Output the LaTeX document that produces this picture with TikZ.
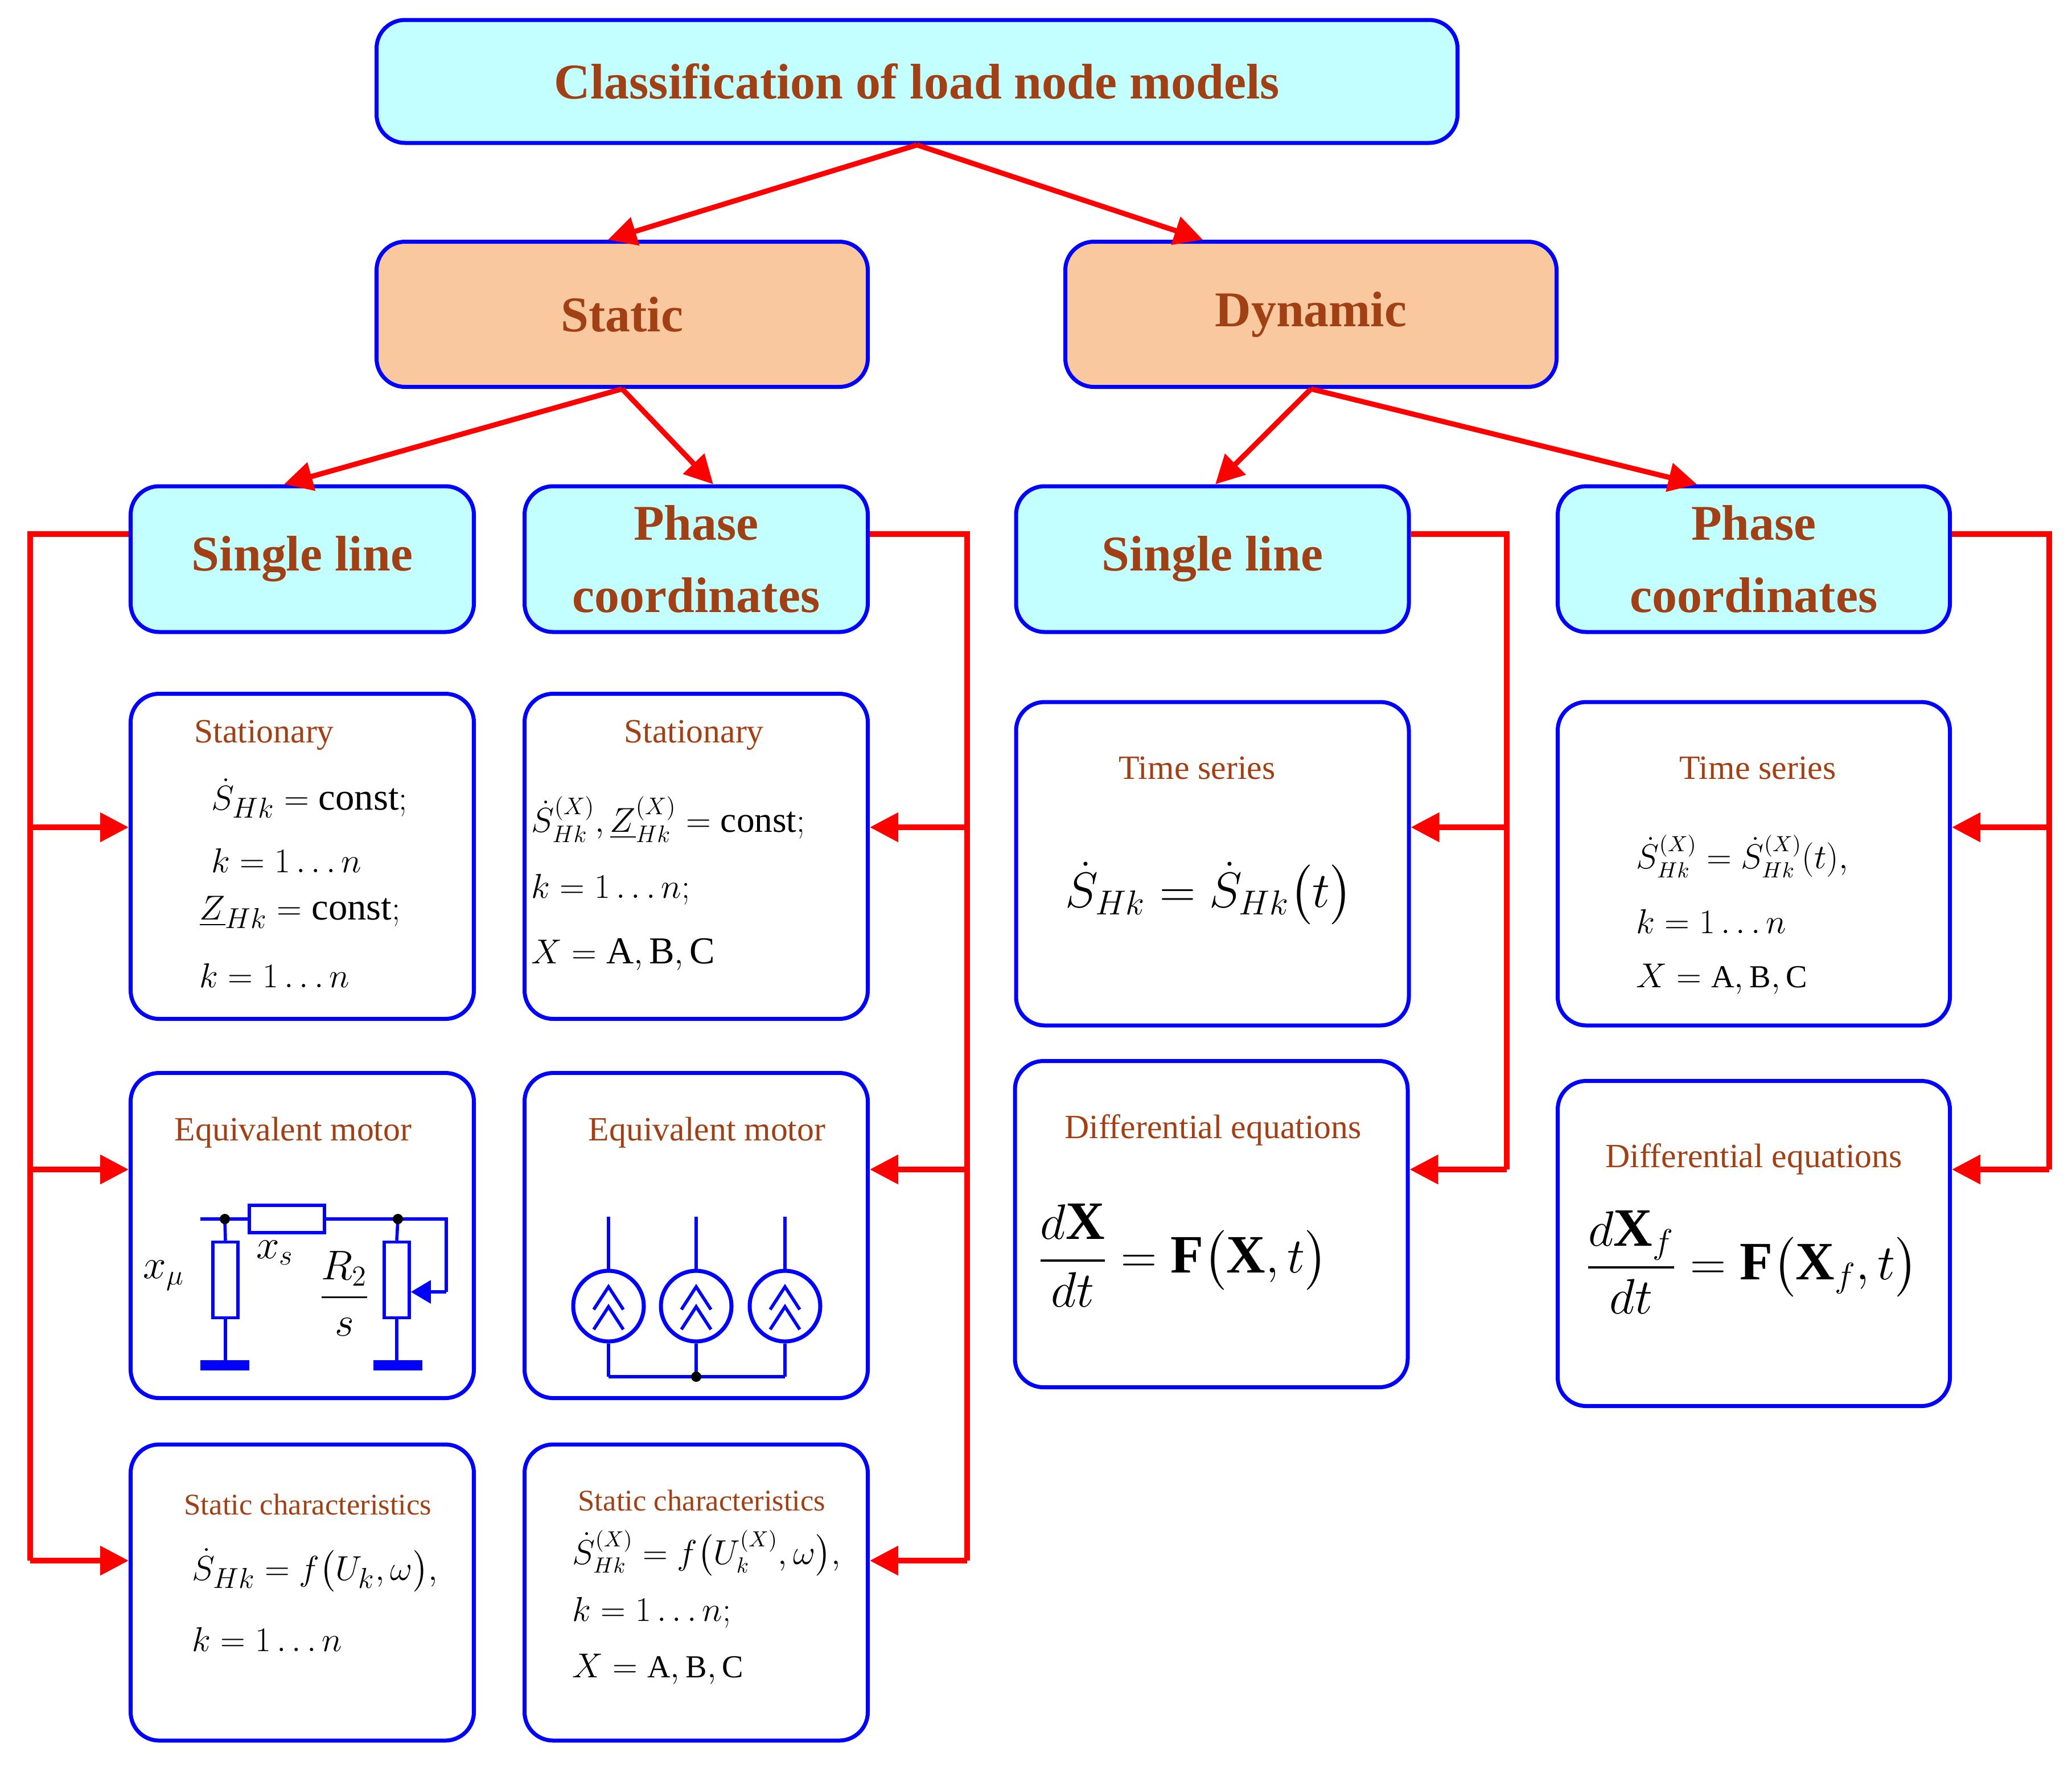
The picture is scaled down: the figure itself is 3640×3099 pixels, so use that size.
\documentclass[tikz,border=0pt]{standalone}
\usepackage{fontspec}
\setmainfont{Liberation Serif}
\usepackage{amsmath}
\usetikzlibrary{arrows.meta, calc, positioning}
\definecolor{txtbrown}{RGB}{160,64,20}
\definecolor{boxcyan}{RGB}{196,255,255}
\definecolor{boxorange}{RGB}{250,200,158}
\begin{document}
\begin{tikzpicture}[x=0.1mm, y=-0.1mm,
    box/.style={draw=blue, line width=2pt, rounded corners=5mm, fill=white},
    head/.style={box, text=txtbrown, font=\fontsize{25}{36}\selectfont\bfseries, align=center},
    lbl/.style={text=txtbrown, font=\fontsize{17}{20}\selectfont},
    mth/.style={font=\fontsize{19}{22}\selectfont, anchor=west, inner sep=0},
    arr/.style={draw=red, line width=2.6pt, -{Triangle[length=5mm, width=5mm]}},
    lin/.style={draw=red, line width=2.6pt},
    wire/.style={draw=blue, line width=1.6pt}]

    \useasboundingbox (0,0) rectangle (3640,3099);

    % LEVEL 1 AND 2
    \node[head, fill=boxcyan, minimum width=189.9mm, minimum height=21.6mm] (top) at (1611,143) {Classification of load node models};
    \node[head, fill=boxorange, minimum width=86.3mm, minimum height=25.5mm] (static) at (1093,552) {Static};
    \node[head, fill=boxorange, minimum width=86.3mm, minimum height=25.5mm] (dynamic) at (2303,552) {Dynamic};
    \draw[arr] (top.south) -- ($(static.north)+(-25,0)$);
    \draw[arr] (top.south) -- ($(dynamic.north)+(-190,0)$);

    % LEVEL 3
    \node[head, fill=boxcyan, minimum width=60.3mm, minimum height=25.6mm] (sl1) at (531,982) {Single line};
    \node[head, fill=boxcyan, minimum width=60.3mm, minimum height=25.6mm] (pc1) at (1223,982) {Phase\\coordinates};
    \node[head, fill=boxcyan, minimum width=69mm, minimum height=25.6mm] (sl2) at (2130,982) {Single line};
    \node[head, fill=boxcyan, minimum width=68.9mm, minimum height=25.6mm] (pc2) at (3081,982) {Phase\\coordinates};
    \draw[arr] (static.south) -- ($(sl1.north)+(-32,0)$);
    \draw[arr] (static.south) -- ($(pc1.north)+(30,0)$);
    \draw[arr] (dynamic.south) -- ($(sl2.north)+(5,0)$);
    \draw[arr] (dynamic.south) -- ($(pc2.north)+(-100,0)$);

    % STATIC SINGLE LINE
    \node[box, minimum width=60.3mm, minimum height=57.1mm] (stat1) at (531,1504) {};
    \node[lbl] (stat1t) at (464,1291) {Stationary};
    \node[mth] (stat1a) at (371,1402) {$\dot S_{Hk}=\mathrm{const};$};
    \node[mth] (stat1b) at (371,1511) {$k=1\ldots n$};
    \node[mth] (stat1c) at (350,1602) {$\underline{Z}_{Hk}=\mathrm{const};$};
    \node[mth] (stat1d) at (350,1713) {$k=1\ldots n$};

    \node[box, minimum width=60.3mm, minimum height=57.1mm] (motor1) at (531,2170) {};
    \node[lbl] (motor1t) at (515,1989) {Equivalent motor};
    \coordinate (n1) at (395,2141);
    \coordinate (n2) at (699,2141);
    \draw[wire] (352,2141) -- (n1) -- (438,2141);
    \draw[wire] (570,2141) -- (n2) -- (784,2141) -- (784,2269) coordinate (tap);
    \node[draw=blue, line width=1.6pt, minimum width=13.2mm, minimum height=4.8mm, inner sep=0] (xs) at (504,2141) {};
    \node[draw=blue, line width=1.6pt, minimum width=4.4mm, minimum height=13.3mm, inner sep=0] (rmu) at (396,2248) {};
    \node[draw=blue, line width=1.6pt, minimum width=4.4mm, minimum height=13.3mm, inner sep=0] (rr) at (697,2248) {};
    \draw[wire] (n1) -- (rmu.north);
    \draw[wire] (n2) -- (rr.north);
    \draw[wire] (rmu.south) -- (396,2398);
    \draw[wire] (rr.south) -- (697,2398);
    \draw[blue, line width=5pt] (352,2398) -- (438,2398) (656,2398) -- (742,2398);
    \draw[wire, -{Triangle[length=3.5mm, width=4mm]}] (tap) -- (rr.east|-tap);
    \fill (n1) circle (9) (n2) circle (9);
    \node[font=\fontsize{21}{24}\selectfont] (xmu) at (288,2240) {$x_\mu$};
    \node[font=\fontsize{21}{24}\selectfont] (xsl) at (483,2200) {$x_s$};
    \node[font=\fontsize{21}{24}\selectfont] (r2s) at (605,2272) {$\dfrac{R_2}{s}$};

    \node[box, minimum width=60.3mm, minimum height=52mm] (char1) at (531,2797) {};
    \node[lbl, font=\fontsize{15}{18}\selectfont] (char1t) at (541,2642) {Static characteristics};
    \node[mth] (char1a) at (337,2758) {$\dot S_{Hk}=f\bigl(U_k,\omega\bigr),$};
    \node[mth] (char1b) at (337,2879) {$k=1\ldots n$};

    % STATIC PHASE COORDINATES
    \node[box, minimum width=60.3mm, minimum height=57.1mm] (stat2) at (1223,1504) {};
    \node[lbl] (stat2t) at (1219,1291) {Stationary};
    \node[mth, font=\fontsize{18}{22}\selectfont] (stat2a) at (933,1439) {$\dot S^{(X)}_{Hk},\underline{Z}^{(X)}_{Hk}=\mathrm{const};$};
    \node[mth] (stat2b) at (933,1562) {$k=1\ldots n;$};
    \node[mth] (stat2c) at (933,1676) {$X=\mathrm{A,B,C}$};

    \node[box, minimum width=60.3mm, minimum height=57.1mm] (motor2) at (1223,2170) {};
    \node[lbl] (motor2t) at (1242,1989) {Equivalent motor};
    \foreach \i/\xx in {1/1069, 2/1223, 3/1379} {
        \node[draw=blue, line width=2pt, circle, minimum size=12.4mm, inner sep=0] (m\i) at (\xx,2294) {};
        \draw[wire] (m\i.north) -- (\xx,2137);
        \draw[wire] (m\i.south) -- (\xx,2418);
        \draw[wire] (\xx-26,2300) -- (\xx,2260) -- (\xx+26,2300);
        \draw[wire] (\xx-26,2335) -- (\xx,2295) -- (\xx+26,2335);
    }
    \draw[wire] (1069,2418) -- (1379,2418);
    \fill (1223,2418) circle (9);

    \node[box, minimum width=60.3mm, minimum height=52mm] (char2) at (1223,2797) {};
    \node[lbl, font=\fontsize{15}{18}\selectfont] (char2t) at (1233,2635) {Static characteristics};
    \node[mth, font=\fontsize{16}{19}\selectfont] (char2a) at (1005,2728) {$\dot S^{(X)}_{Hk}=f\bigl(U^{(X)}_k,\omega\bigr),$};
    \node[mth, font=\fontsize{16}{19}\selectfont] (char2b) at (1005,2832) {$k=1\ldots n;$};
    \node[mth, font=\fontsize{16}{19}\selectfont] (char2c) at (1005,2932) {$X=\mathrm{A,B,C}$};

    % DYNAMIC SINGLE LINE
    \node[box, minimum width=69mm, minimum height=56.8mm] (ts1) at (2130,1517) {};
    \node[lbl] (ts1t) at (2103,1349) {Time series};
    \node[font=\fontsize{27}{30}\selectfont] (ts1a) at (2124,1569) {$\dot S_{Hk}=\dot S_{Hk}\bigl(t\bigr)$};

    \node[box, minimum width=69mm, minimum height=57.3mm] (de1) at (2128,2150) {};
    \node[lbl] (de1t) at (2131,1985) {Differential equations};
    \node[font=\fontsize{27}{30}\selectfont] (de1a) at (2078,2205) {$\dfrac{d\mathbf{X}}{dt}=\mathbf{F}\bigl(\mathbf{X},t\bigr)$};

    % DYNAMIC PHASE COORDINATES
    \node[box, minimum width=68.9mm, minimum height=56.8mm] (ts2) at (3081,1517) {};
    \node[lbl] (ts2t) at (3088,1349) {Time series};
    \node[mth, font=\fontsize{16}{19}\selectfont] (ts2a) at (2874,1504) {$\dot S^{(X)}_{Hk}=\dot S^{(X)}_{Hk}(t),$};
    \node[mth, font=\fontsize{16}{19}\selectfont] (ts2b) at (2874,1618) {$k=1\ldots n$};
    \node[mth, font=\fontsize{16}{19}\selectfont] (ts2c) at (2874,1720) {$X=\mathrm{A,B,C}$};

    \node[box, minimum width=68.9mm, minimum height=57.1mm] (de2) at (3081,2184) {};
    \node[lbl] (de2t) at (3081,2036) {Differential equations};
    \node[font=\fontsize{27}{30}\selectfont] (de2a) at (3078,2217) {$\dfrac{d\mathbf{X}_f}{dt}=\mathbf{F}\bigl(\mathbf{X}_f,t\bigr)$};

    % BRACKETS
    \coordinate (b1) at (53,938);
    \coordinate (b2) at (1699,938);
    \coordinate (b3) at (2647,938);
    \coordinate (b4) at (3600,938);
    \draw[lin] (sl1.west|-b1) -- (b1) -- (53,2741);
    \foreach \yy/\dst in {1453/stat1, 2054/motor1, 2741/char1}
        \draw[arr] (53,\yy) -- (\dst.west|-0,\yy);
    \draw[lin] (pc1.east|-b2) -- (b2) -- (1699,2741);
    \foreach \yy/\dst in {1453/stat2, 2054/motor2, 2741/char2}
        \draw[arr] (1699,\yy) -- (\dst.east|-0,\yy);
    \draw[lin] (sl2.east|-b3) -- (b3) -- (2647,2054);
    \foreach \yy/\dst in {1453/ts1, 2054/de1}
        \draw[arr] (2647,\yy) -- (\dst.east|-0,\yy);
    \draw[lin] (pc2.east|-b4) -- (b4) -- (3600,2054);
    \foreach \yy/\dst in {1453/ts2, 2054/de2}
        \draw[arr] (3600,\yy) -- (\dst.east|-0,\yy);

\end{tikzpicture}
\end{document}
